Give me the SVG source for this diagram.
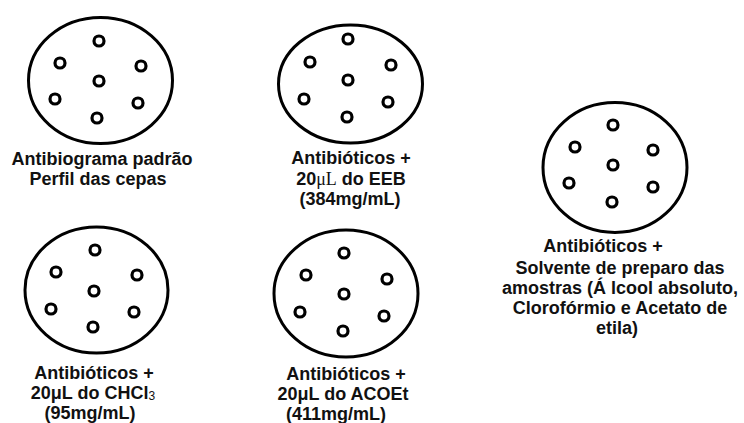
<svg xmlns="http://www.w3.org/2000/svg" width="744" height="423" viewBox="0 0 744 423">
<style>
.plate{fill:none;stroke:#000;stroke-width:3}
.dot{fill:none;stroke:#000;stroke-width:3.2}
.lbl{font-family:"Liberation Sans",Arial,sans-serif;font-weight:bold;font-size:18px;fill:#111;text-anchor:middle}
.serif{font-family:"Liberation Serif","Times New Roman",serif;font-weight:normal}
</style>
<rect width="744" height="423" fill="#fff"/>
<g id="plate1">
<ellipse class="plate" cx="100.5" cy="80.5" rx="72" ry="63"/>
<circle class="dot" cx="99" cy="41" r="5"/><circle class="dot" cx="60" cy="63" r="5"/><circle class="dot" cx="141" cy="66" r="5"/><circle class="dot" cx="99" cy="81" r="5"/><circle class="dot" cx="55" cy="99" r="5"/><circle class="dot" cx="138" cy="103" r="5"/><circle class="dot" cx="97" cy="118" r="5"/>
<text class="lbl" x="102" y="165">Antibiograma padrão</text>
<text class="lbl" x="98" y="185">Perfil das cepas</text>
</g>
<g id="plate2">
<ellipse class="plate" cx="350.5" cy="84" rx="72" ry="59"/>
<circle class="dot" cx="348" cy="39" r="5"/><circle class="dot" cx="310" cy="62" r="5"/><circle class="dot" cx="391" cy="65" r="5"/><circle class="dot" cx="348" cy="80" r="5"/><circle class="dot" cx="304" cy="99" r="5"/><circle class="dot" cx="388" cy="102" r="5"/><circle class="dot" cx="347" cy="117" r="5"/>
<text class="lbl" x="351" y="164">Antibióticos +</text>
<text class="lbl" x="351" y="185">20<tspan class="serif">μL</tspan> do EEB</text>
<text class="lbl" x="350" y="205">(384mg/mL)</text>
</g>
<g id="plate3">
<ellipse class="plate" cx="615" cy="167.5" rx="72" ry="65"/>
<circle class="dot" cx="613" cy="125" r="5"/><circle class="dot" cx="575" cy="147" r="5"/><circle class="dot" cx="653" cy="150" r="5"/><circle class="dot" cx="613" cy="165" r="5"/><circle class="dot" cx="569" cy="183" r="5"/><circle class="dot" cx="653" cy="187" r="5"/><circle class="dot" cx="612" cy="202" r="5"/>
<text class="lbl" x="603" y="252">Antibióticos +</text>
<text class="lbl" x="620" y="274">Solvente de preparo das</text>
<text class="lbl" x="620" y="294">amostras (Á lcool absoluto,</text>
<text class="lbl" x="620" y="314">Clorofórmio e Acetato de</text>
<text class="lbl" x="617" y="334">etila)</text>
</g>
<g id="plate4">
<ellipse class="plate" cx="96.5" cy="290" rx="71.5" ry="63"/>
<circle class="dot" cx="95" cy="250" r="5"/><circle class="dot" cx="56" cy="272" r="5"/><circle class="dot" cx="137" cy="275" r="5"/><circle class="dot" cx="94" cy="291" r="5"/><circle class="dot" cx="51" cy="309" r="5"/><circle class="dot" cx="134" cy="312" r="5"/><circle class="dot" cx="93" cy="327" r="5"/>
<text class="lbl" x="94" y="379">Antibióticos +</text>
<text class="lbl" x="93" y="399">20μL do CHCl<tspan font-size="12" font-weight="normal" dy="1">3</tspan></text>
<text class="lbl" x="90" y="419">(95mg/mL)</text>
</g>
<g id="plate5">
<ellipse class="plate" cx="346" cy="293.5" rx="72" ry="63.5"/>
<circle class="dot" cx="344" cy="253" r="5"/><circle class="dot" cx="306" cy="275" r="5"/><circle class="dot" cx="387" cy="279" r="5"/><circle class="dot" cx="344" cy="294" r="5"/><circle class="dot" cx="300" cy="312" r="5"/><circle class="dot" cx="384" cy="316" r="5"/><circle class="dot" cx="343" cy="331" r="5"/>
<text class="lbl" x="346" y="380">Antibióticos +</text>
<text class="lbl" x="343" y="400">20μL do ACOEt</text>
<text class="lbl" x="336" y="420">(411mg/mL)</text>
</g>
<g id="connectors"/>
</svg>
